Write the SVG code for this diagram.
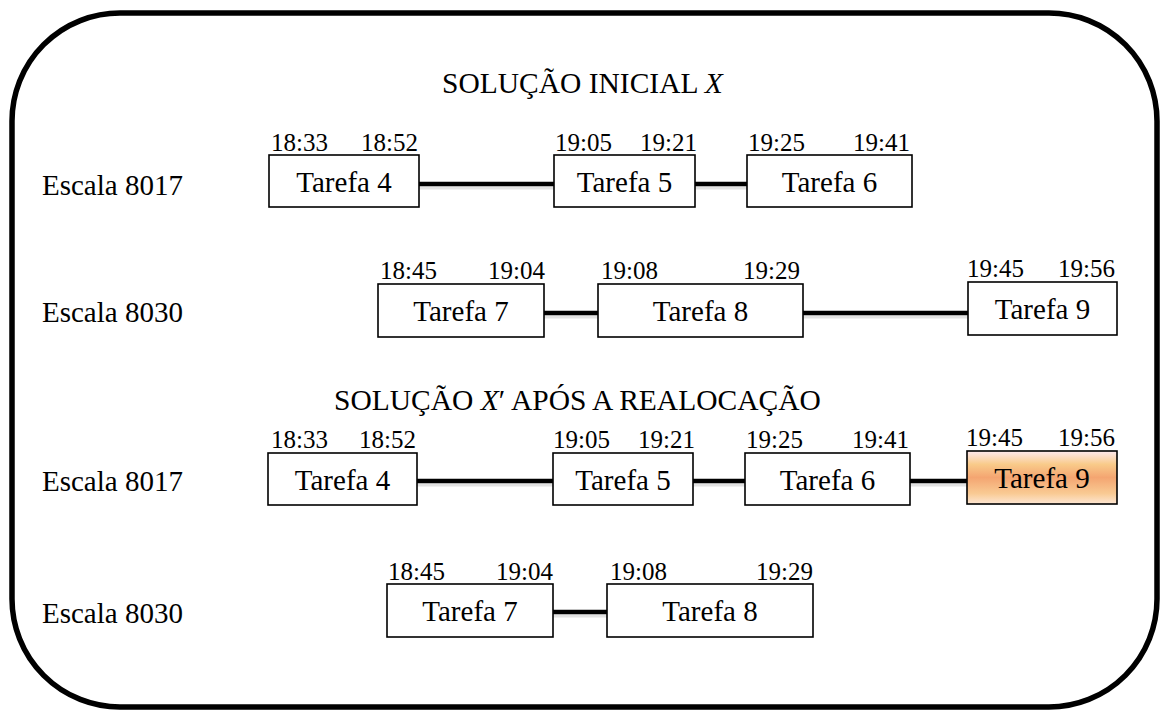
<svg xmlns="http://www.w3.org/2000/svg" width="1160" height="710" viewBox="0 0 1160 710">
<style>
  .title, .lbl, .task, .t, .te { font-family: "Liberation Serif", "Times New Roman", Times, "DejaVu Serif", serif; fill: #000; }
  .title { font-size: 29.5px; }
  .lbl { font-size: 29px; }
  .task { font-size: 29px; text-anchor: middle; }
  .t { font-size: 25px; }
  .te { font-size: 25px; text-anchor: end; }
  .box { fill: #fff; stroke: #000; stroke-width: 1.6; }
  .hl { fill: url(#orange); stroke: #000; stroke-width: 1.6; }
  .conn { stroke: #000; stroke-width: 4.5; fill: none; }
  .shadow { stroke: #e2e2e2; stroke-width: 3; fill: none; }
</style>
<defs>
  <linearGradient id="orange" x1="0" y1="0" x2="0" y2="1">
    <stop offset="0" stop-color="#fde9ef"/>
    <stop offset="0.25" stop-color="#f9cb8a"/>
    <stop offset="0.5" stop-color="#f4a571"/>
    <stop offset="0.8" stop-color="#f9ca93"/>
    <stop offset="1" stop-color="#fde6d3"/>
  </linearGradient>
</defs>
<rect x="0" y="0" width="1160" height="710" fill="#fff"/>
<rect x="12" y="13" width="1145" height="694" rx="108" ry="108" fill="none" stroke="#000" stroke-width="5.5"/>

<text class="title" x="442" y="93">SOLUÇÃO INICIAL <tspan font-style="italic">X</tspan></text>
<text class="title" x="334" y="410">SOLUÇÃO <tspan font-style="italic">X</tspan>′ APÓS A REALOCAÇÃO</text>

<text class="lbl" x="42" y="195">Escala 8017</text>
<text class="lbl" x="42" y="322">Escala 8030</text>
<text class="lbl" x="42" y="491">Escala 8017</text>
<text class="lbl" x="42" y="623">Escala 8030</text>

<g id="connectors">
  <g class="shadows">
    <line class="shadow" x1="419" y1="188" x2="554" y2="188"/>
    <line class="shadow" x1="695" y1="188" x2="747" y2="188"/>
    <line class="shadow" x1="544" y1="317" x2="598" y2="317"/>
    <line class="shadow" x1="803" y1="317" x2="968" y2="317"/>
    <line class="shadow" x1="417" y1="485" x2="553" y2="485"/>
    <line class="shadow" x1="693" y1="485" x2="745" y2="485"/>
    <line class="shadow" x1="910" y1="485" x2="967" y2="485"/>
    <line class="shadow" x1="553" y1="616" x2="607" y2="616"/>
  </g>
  <line class="conn" x1="419" y1="184" x2="554" y2="184"/>
  <line class="conn" x1="695" y1="184" x2="747" y2="184"/>
  <line class="conn" x1="544" y1="313" x2="598" y2="313"/>
  <line class="conn" x1="803" y1="313" x2="968" y2="313"/>
  <line class="conn" x1="417" y1="481" x2="553" y2="481"/>
  <line class="conn" x1="693" y1="481" x2="745" y2="481"/>
  <line class="conn" x1="910" y1="481" x2="967" y2="481"/>
  <line class="conn" x1="553" y1="612" x2="607" y2="612"/>
</g>

<!-- Row 1 -->
<g id="r1-t4">
  <rect class="box" x="269" y="155" width="150" height="52"/>
  <text class="task" x="344" y="192">Tarefa 4</text>
  <text class="t" x="271" y="151">18:33</text>
  <text class="te" x="418" y="151">18:52</text>
</g>
<g id="r1-t5">
  <rect class="box" x="554" y="155" width="141" height="52"/>
  <text class="task" x="624.5" y="192">Tarefa 5</text>
  <text class="t" x="555" y="151">19:05</text>
  <text class="te" x="697" y="151">19:21</text>
</g>
<g id="r1-t6">
  <rect class="box" x="747" y="155" width="165" height="52"/>
  <text class="task" x="829.5" y="192">Tarefa 6</text>
  <text class="t" x="748" y="151">19:25</text>
  <text class="te" x="910" y="151">19:41</text>
</g>

<!-- Row 2 -->
<g id="r2-t7">
  <rect class="box" x="378" y="284" width="166" height="53"/>
  <text class="task" x="461" y="321">Tarefa 7</text>
  <text class="t" x="380" y="279">18:45</text>
  <text class="te" x="545" y="279">19:04</text>
</g>
<g id="r2-t8">
  <rect class="box" x="598" y="284" width="205" height="53"/>
  <text class="task" x="700.5" y="321">Tarefa 8</text>
  <text class="t" x="601" y="279">19:08</text>
  <text class="te" x="800" y="279">19:29</text>
</g>
<g id="r2-t9">
  <rect class="box" x="968" y="282" width="149" height="53"/>
  <text class="task" x="1042.5" y="319">Tarefa 9</text>
  <text class="t" x="967" y="277">19:45</text>
  <text class="te" x="1115" y="277">19:56</text>
</g>

<!-- Row 3 -->
<g id="r3-t4">
  <rect class="box" x="268" y="453" width="149" height="52"/>
  <text class="task" x="342.5" y="490">Tarefa 4</text>
  <text class="t" x="271" y="448">18:33</text>
  <text class="te" x="416" y="448">18:52</text>
</g>
<g id="r3-t5">
  <rect class="box" x="553" y="453" width="140" height="52"/>
  <text class="task" x="623" y="490">Tarefa 5</text>
  <text class="t" x="553" y="448">19:05</text>
  <text class="te" x="695" y="448">19:21</text>
</g>
<g id="r3-t6">
  <rect class="box" x="745" y="453" width="165" height="52"/>
  <text class="task" x="827.5" y="490">Tarefa 6</text>
  <text class="t" x="746" y="448">19:25</text>
  <text class="te" x="909" y="448">19:41</text>
</g>
<g id="r3-t9">
  <rect class="hl" x="967" y="451" width="150" height="53"/>
  <text class="task" x="1042" y="488">Tarefa 9</text>
  <text class="t" x="966" y="446">19:45</text>
  <text class="te" x="1115" y="446">19:56</text>
</g>

<!-- Row 4 -->
<g id="r4-t7">
  <rect class="box" x="387" y="584" width="166" height="53"/>
  <text class="task" x="470" y="621">Tarefa 7</text>
  <text class="t" x="388" y="580">18:45</text>
  <text class="te" x="553" y="580">19:04</text>
</g>
<g id="r4-t8">
  <rect class="box" x="607" y="584" width="206" height="53"/>
  <text class="task" x="710" y="621">Tarefa 8</text>
  <text class="t" x="610" y="580">19:08</text>
  <text class="te" x="813" y="580">19:29</text>
</g>
</svg>
